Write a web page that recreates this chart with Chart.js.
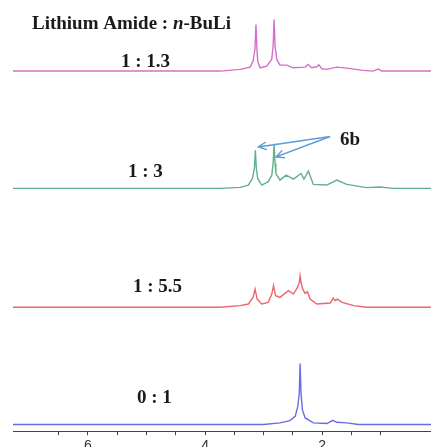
<!DOCTYPE html>
<html>
<head>
<meta charset="utf-8">
<script src="https://cdn.jsdelivr.net/npm/chart.js@4/dist/chart.umd.min.js"></script>
<style>
  html, body { margin: 0; padding: 0; background: #fff; overflow: hidden; }
  #wrap { position: absolute; left: 0; top: 0; width: 431px; height: 458px; }
</style>
</head>
<body>
<div id="wrap"><canvas id="nmr"></canvas></div>
<script>
// chemical shift (ppm) and intensity for each trace
const pinkShift  = [7.40, 3.74, 3.40, 3.23, 3.18, 3.147, 3.13, 3.113, 3.10, 3.06, 2.945, 2.86, 2.837, 2.82, 2.803, 2.775, 2.72, 2.60, 2.50, 2.29, 2.24, 2.18, 2.09, 2.056, 2.005, 1.92, 1.75, 1.58, 1.30, 1.13, 1.06, 1.04, 0.98, 0.0];
const pinkInt    = [0, 0, 1.7, 4, 10, 22, 47, 22, 10, 3.3, 5, 12, 25, 52, 25, 12, 6, 6, 3.3, 4, 6.7, 3.3, 4.3, 6.3, 2.3, 1.7, 4, 3, 0.7, 0, 1.7, 2, 0, 0];

const greenShift = [7.40, 3.74, 3.40, 3.26, 3.19, 3.157, 3.14, 3.123, 3.10, 3.03, 2.92, 2.86, 2.837, 2.82, 2.803, 2.79, 2.72, 2.615, 2.49, 2.36, 2.31, 2.234, 2.15, 1.92, 1.75, 1.58, 1.24, 1.01, 0.79, 0.0];
const greenInt   = [0, 0, 1, 3.3, 10, 20, 38.3, 20, 10, 3.3, 6.7, 13, 25, 45, 25, 15, 8.3, 13.3, 9.3, 15, 9.3, 17.3, 4, 3.3, 8.3, 4, 0.7, 1.3, 0, 0];

const redShift   = [7.40, 3.74, 3.40, 3.26, 3.18, 3.145, 3.11, 3.03, 2.92, 2.86, 2.83, 2.795, 2.72, 2.575, 2.49, 2.42, 2.39, 2.376, 2.36, 2.33, 2.29, 2.25, 2.205, 2.09, 1.86, 1.81, 1.78, 1.74, 1.66, 1.46, 1.24, 0.0];
const redInt     = [0, 0, 1.7, 3.3, 10, 18.3, 8.3, 3.3, 5, 13.3, 21.7, 11.7, 10, 16.7, 13.3, 20, 25, 31.7, 25, 18.3, 14, 15.7, 8.3, 3.3, 4.3, 9.3, 6.7, 8.3, 5, 1.7, 0, 0];

const blueShift  = [7.40, 3.00, 2.72, 2.55, 2.46, 2.415, 2.39, 2.376, 2.36, 2.337, 2.29, 2.15, 1.92, 1.817, 1.75, 1.58, 1.38, 0.0];
const blueInt    = [0, 0, 1.7, 4, 8.3, 18.3, 31.7, 61.7, 31.7, 15, 6.7, 1.7, 1, 4.3, 2.3, 1.7, 0, 0];

// stacking offset of each trace, top to bottom
const ratios  = ['1 : 1.3', '1 : 3', '1 : 5.5', '0 : 1'];
const offsets = [363.3, 245, 125, 6.7];
const colors  = ['#d66fca', '#62b08c', '#ec666e', '#6c6ce0'];

const tickLabels = [6, 4, 2];

function pts(shift, ints, off) {
  return shift.map((s, i) => ({ x: s, y: off + ints[i] }));
}

const traces = [
  pts(pinkShift, pinkInt, offsets[0]),
  pts(greenShift, greenInt, offsets[1]),
  pts(redShift, redInt, offsets[2]),
  pts(blueShift, blueInt, offsets[3]),
];

const serif = '"Liberation Serif", "Times New Roman", serif';

const labelsPlugin = {
  id: 'labels',
  afterDatasetsDraw(chart) {
    const { ctx } = chart;
    const xs = chart.scales.x, ys = chart.scales.y;
    ctx.save();
    ctx.fillStyle = '#1a1a1a';
    ctx.textBaseline = 'alphabetic';
    ctx.textAlign = 'left';

    // title with italic n
    let x = 32;
    const parts = [['Lithium Amide : ', 'bold'], ['n', 'italic bold'], ['-BuLi', 'bold']];
    parts.forEach(([t, st]) => {
      ctx.font = st + ' 19px ' + serif;
      ctx.fillText(t, x, 29);
      x += ctx.measureText(t).width;
    });

    ctx.font = 'bold 19px ' + serif;
    const ratioPos = [[121, 66.5], [128, 176.5], [133, 291.5], [137, 403]];
    ratios.forEach((r, i) => ctx.fillText(r, ratioPos[i][0], ratioPos[i][1]));
    ctx.fillText('6b', 340, 145);

    // arrows to the 6b peaks (green trace)
    const tail = { x: xs.getPixelForValue(1.863), y: ys.getPixelForValue(offsets[1] + 52.3) };
    const tips = [[3.09, 41.7], [2.786, 31.7]].map(([s, v]) => ({
      x: xs.getPixelForValue(s), y: ys.getPixelForValue(offsets[1] + v)
    }));
    ctx.strokeStyle = '#5a9bd8';
    ctx.lineWidth = 1.4;
    tips.forEach(tp => {
      ctx.beginPath();
      ctx.moveTo(tail.x, tail.y);
      ctx.lineTo(tp.x, tp.y);
      const a = Math.atan2(tail.y - tp.y, tail.x - tp.x);
      const len = 9, spread = 0.45;
      ctx.moveTo(tp.x + len * Math.cos(a + spread), tp.y + len * Math.sin(a + spread));
      ctx.lineTo(tp.x, tp.y);
      ctx.lineTo(tp.x + len * Math.cos(a - spread), tp.y + len * Math.sin(a - spread));
      ctx.stroke();
    });
    ctx.restore();
  }
};

new Chart(document.getElementById('nmr'), {
  type: 'line',
  data: {
    datasets: traces.map((d, i) => ({
      data: d,
      borderColor: colors[i],
      borderWidth: 1.4,
      pointRadius: 0,
      tension: 0,
      fill: false,
    })),
  },
  options: {
    responsive: true,
    maintainAspectRatio: false,
    animation: false,
    layout: { padding: { left: 13, right: 0, top: 0, bottom: 0 } },
    plugins: { legend: { display: false }, tooltip: { enabled: false } },
    scales: {
      x: {
        type: 'linear',
        reverse: true,
        min: 0.14,
        max: 7.28,
        afterBuildTicks: (scale) => {
          scale.ticks = scale.ticks.filter(t => Math.abs(t.value * 2 - Math.round(t.value * 2)) < 1e-6);
        },
        border: { display: true, color: '#444', width: 1 },
        grid: { drawOnChartArea: false, drawTicks: true, tickLength: 4, color: '#444' },
        ticks: {
          stepSize: 0.5,
          autoSkip: false,
          maxRotation: 0,
          padding: 3,
          color: '#333',
          font: { family: 'Arial, "Liberation Sans", sans-serif', size: 14 },
          callback: (v) => tickLabels.includes(v) ? String(v) : '',
        },
      },
      y: {
        display: false,
        min: 0,
        max: 435,
      },
    },
  },
  plugins: [labelsPlugin],
});
</script>
</body>
</html>
